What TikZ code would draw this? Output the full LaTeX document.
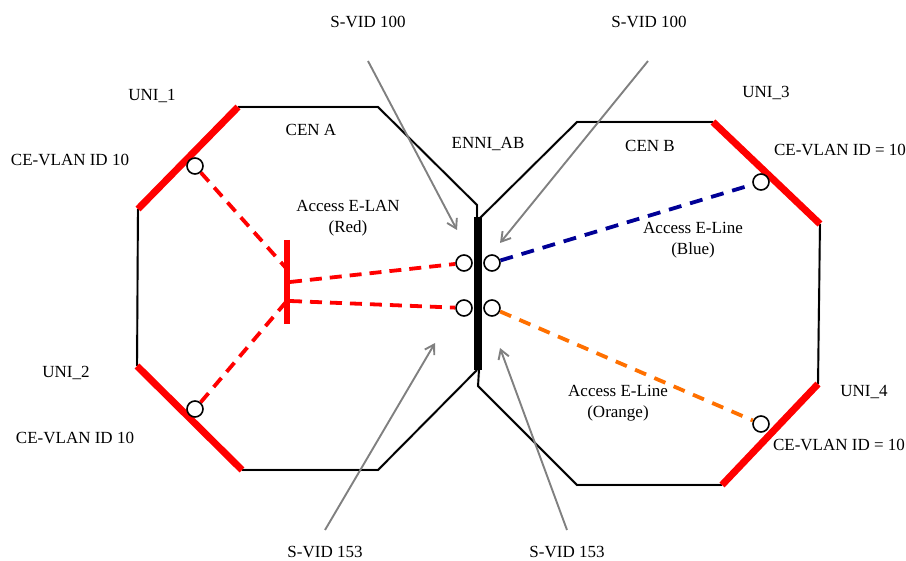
\documentclass[tikz,border=0pt]{standalone}
\usepackage{fontspec}
\setmainfont{Liberation Serif}
\usetikzlibrary{arrows.meta}
\definecolor{eblue}{RGB}{0,0,150}
\definecolor{eorange}{RGB}{255,112,0}
\definecolor{egray}{RGB}{128,128,128}
\begin{document}
\begin{tikzpicture}[x=1pt,y=-1pt,
  lbl/.style={font=\fontsize{17}{21}\selectfont, align=center, inner sep=0pt},
  edge/.style={line width=1.9pt, black, line join=miter},
  shadowline/.style={line width=3pt, black!10, line join=round},
  uni/.style={line width=7pt, red},
  port/.style={circle, draw=black, line width=1.6pt, minimum size=16pt, inner sep=0pt, fill=white},
  enni/.style={line width=8pt, black},
  tbar/.style={line width=6.5pt, red},
  reddash/.style={red, line width=3.8pt, dash pattern=on 12pt off 8pt},
  bluedash/.style={eblue, line width=3.8pt, dash pattern=on 13pt off 9pt},
  orangedash/.style={eorange, line width=3.8pt, dash pattern=on 12pt off 9pt},
  pointer/.style={egray, line width=1.9pt, -{Straight Barb[length=9pt,width=11pt,line width=1.9pt]}}
]
\useasboundingbox (0,0) rectangle (906,561);

% ---------- vertices of CEN A ----------
\coordinate (A1) at (238,107);
\coordinate (A2) at (378,107);
\coordinate (A3) at (477,205);
\coordinate (A4) at (477,219);
\coordinate (A5) at (477,370);
\coordinate (A6) at (378,470);
\coordinate (A7) at (242,470);
\coordinate (A8) at (137,366);
\coordinate (A9) at (138,209);
% ---------- vertices of CEN B ----------
\coordinate (B1) at (577,122);
\coordinate (B2) at (713,122);
\coordinate (B3) at (820,224);
\coordinate (B4) at (818,384);
\coordinate (B5) at (722,485);
\coordinate (B6) at (577,485);
\coordinate (B7) at (478,386);
\coordinate (B8) at (479,370);
\coordinate (B9) at (479,219);

% shadows
\begin{scope}[shift={(2,3)}]
\draw[shadowline] (A1) -- (A2) -- (A3) -- (A4);
\draw[shadowline] (A5) -- (A6) -- (A7);
\draw[shadowline] (A8) -- (A9);
\draw[shadowline] (B9) -- (B1) -- (B2);
\draw[shadowline] (B3) -- (B4);
\draw[shadowline] (B5) -- (B6) -- (B7) -- (B8);
\end{scope}

% octagon outlines
\draw[edge] (A1) -- (A2) -- (A3) -- (A4);
\draw[edge] (A5) -- (A6) -- (A7);
\draw[edge] (A8) -- (A9);
\draw[edge] (B9) -- (B1) -- (B2);
\draw[edge] (B3) -- (B4);
\draw[edge] (B5) -- (B6) -- (B7) -- (B8);

% UNIs
\draw[uni] (A9) -- (A1);
\draw[uni] (A8) -- (A7);
\draw[uni] (B2) -- (B3);
\draw[uni] (B4) -- (B5);

% ENNI bar
\coordinate (Etop) at (478,217);
\coordinate (Ebot) at (478,370);
\draw[enni] (Etop) -- (Ebot);

% E-LAN bridge (T)
\coordinate (Ttop) at (287,240);
\coordinate (Tbot) at (287,324);
\draw[tbar] (Ttop) -- (Tbot);
\coordinate (T1) at (286,268);
\coordinate (T2) at (286,302);
\coordinate (T3) at (290,282);
\coordinate (T4) at (290,301);

% ports
\node[port] (U1) at (195,166) {};
\node[port] (U2) at (195,409) {};
\node[port] (U3) at (761,182) {};
\node[port] (U4) at (761,424) {};
\node[port] (EL1) at (464,263) {};
\node[port] (ER1) at (492,263) {};
\node[port] (EL2) at (464,308) {};
\node[port] (ER2) at (492,308) {};

% EVCs
\draw[reddash] (U1) -- (T1);
\draw[reddash] (U2) -- (T2);
\draw[reddash] (T3) -- (EL1);
\draw[reddash] (T4) -- (EL2);
\draw[bluedash] (ER1) -- (U3);
\draw[orangedash] (ER2) -- (U4);

% labels
\node[lbl] (sv1) at (368,22) {S-VID 100};
\node[lbl] (sv2) at (649,22) {S-VID 100};
\node[lbl] (sv3) at (325,552) {S-VID 153};
\node[lbl] (sv4) at (567,552) {S-VID 153};
\node[lbl] (uni1) at (152,96) {UNI\_1};
\node[lbl] (uni2) at (66,373) {UNI\_2};
\node[lbl] (uni3) at (766,93) {UNI\_3};
\node[lbl] (uni4) at (864,392) {UNI\_4};
\node[lbl] (ce1) at (70,160) {CE-VLAN ID 10};
\node[lbl] (ce2) at (75,438) {CE-VLAN ID 10};
\node[lbl] (ce3) at (840,150) {CE-VLAN ID = 10};
\node[lbl] (ce4) at (839,445) {CE-VLAN ID = 10};
\node[lbl] (cena) at (311,130) {CEN A};
\node[lbl] (cenb) at (650,146) {CEN B};
\node[lbl] (ennilbl) at (488,144) {ENNI\_AB};
\node[lbl] (elan) at (348,218) {Access E-LAN\\(Red)};
\node[lbl] (eblue) at (693,240) {Access E-Line\\(Blue)};
\node[lbl] (eorange) at (618,403) {Access E-Line\\(Orange)};

% pointers
\coordinate (p1s) at (368,61);
\coordinate (p1e) at (457,230);
\coordinate (p2s) at (648,61);
\coordinate (p2e) at (500,243);
\coordinate (p3s) at (325,530);
\coordinate (p3e) at (435,343);
\coordinate (p4s) at (567,530);
\coordinate (p4e) at (500,348);
\draw[pointer] (p1s) -- (p1e);
\draw[pointer] (p2s) -- (p2e);
\draw[pointer] (p3s) -- (p3e);
\draw[pointer] (p4s) -- (p4e);
\end{tikzpicture}
\end{document}
